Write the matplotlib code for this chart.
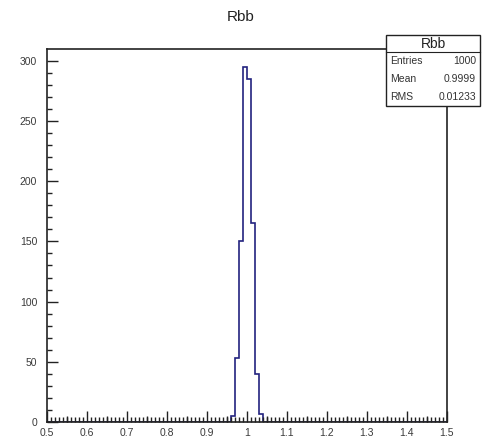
import numpy as np
import matplotlib.pyplot as plt
from matplotlib.patches import Rectangle
from matplotlib.ticker import MultipleLocator

# histogram contents (bin width 0.01 between 0.5 and 1.5)
bin_centers = [0.965, 0.975, 0.985, 0.995, 1.005, 1.015, 1.025, 1.035]
bin_counts = [5, 53, 150, 295, 285, 165, 40, 7]
stat_names = ["Entries", "Mean", "RMS"]
stat_values = ["1000", "0.9999", "0.01233"]

edges = np.linspace(0.5, 1.5, 101)
counts = np.zeros(100)
for c, n in zip(bin_centers, bin_counts):
    counts[int(round((c - 0.5) / 0.01 - 0.5))] = n

plt.rcParams['font.family'] = ['Liberation Sans', 'DejaVu Sans']

fig = plt.figure(figsize=(4.82, 4.38), dpi=100)
ax = fig.add_axes([0.0975, 0.0365, 0.8295, 0.8515])

ax.stairs(counts, edges, color='#23237f', lw=1.2)
ax.set_xlim(0.5, 1.5)
ax.set_ylim(0, max(bin_counts) * 1.05)

ax.xaxis.set_major_locator(MultipleLocator(0.1))
ax.xaxis.set_minor_locator(MultipleLocator(0.01))
ax.yaxis.set_major_locator(MultipleLocator(50))
ax.yaxis.set_minor_locator(MultipleLocator(10))
ax.xaxis.set_major_formatter(plt.FuncFormatter(lambda v, p: f"{v:g}"))
ax.tick_params(which='both', direction='in', top=False, right=False,
               labelsize=7.5, labelcolor='#3a3a3a', width=1, color='#222222')
ax.tick_params(which='major', length=8)
ax.tick_params(which='minor', length=3.5)
ax.tick_params(axis='y', which='major', pad=7)
ax.tick_params(axis='x', which='major', pad=4)
# half-way ticks on x, a bit longer than the minor ones
ax.vlines(np.arange(0.55, 1.5, 0.1), 0, 0.016, transform=ax.get_xaxis_transform(),
          color='#222222', lw=1, clip_on=False)
for s in ax.spines.values():
    s.set_linewidth(1.2)
    s.set_color('#222222')

fig.text(0.5, 0.962, "Rbb", ha='center', va='center', fontsize=11, color='#222222')

# stats box
x0, x1, y0, y1, ysep = 0.801, 0.996, 0.758, 0.920, 0.881
fig.patches.append(Rectangle((x0, y0), x1 - x0, y1 - y0, transform=fig.transFigure,
                             fc='white', ec='#222222', lw=1, zorder=5))
fig.lines.append(plt.Line2D([x0, x1], [ysep, ysep], transform=fig.transFigure,
                            color='#222222', lw=0.8, zorder=6))
fig.text((x0 + x1) / 2, (ysep + y1) / 2, "Rbb", ha='center', va='center',
         fontsize=10, color='#222222', zorder=7)
for i, (n, v) in enumerate(zip(stat_names, stat_values)):
    yy = ysep - (i + 0.5) * (ysep - y0) / 3
    fig.text(x0 + 0.008, yy, n, ha='left', va='center', fontsize=7.5, color='#333333', zorder=7)
    fig.text(x1 - 0.008, yy, v, ha='right', va='center', fontsize=7.5, color='#333333', zorder=7)

fig.savefig('out.png', dpi=100)
